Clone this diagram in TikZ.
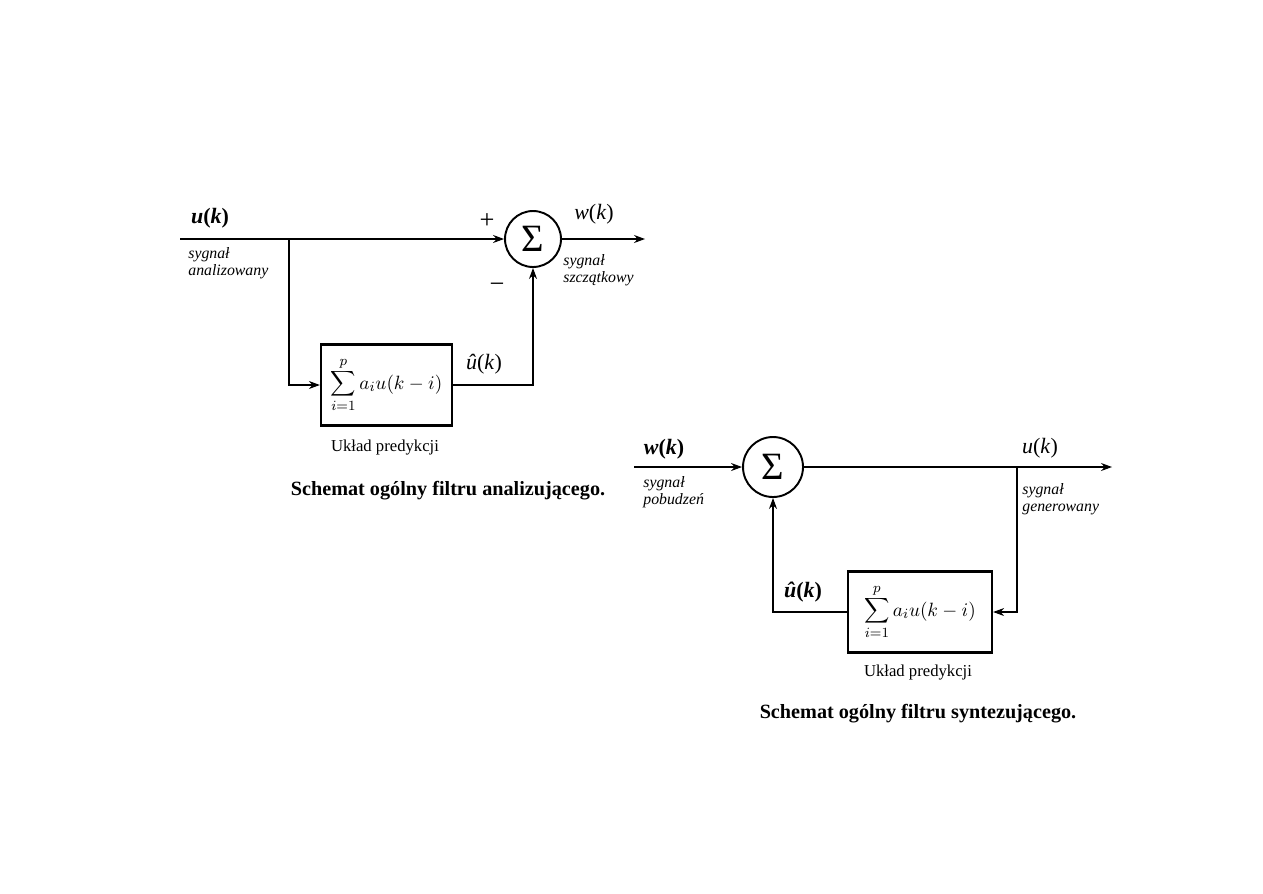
\documentclass[tikz,border=0pt]{standalone}
\usepackage{fontspec}
\setmainfont{Liberation Serif}
\usetikzlibrary{arrows.meta}
\begin{document}
\begin{tikzpicture}[x=0.02cm,y=-0.02cm,
  sig/.style={line width=0.6pt},
  arr/.style={sig,-{Stealth[length=2.2mm,width=1.6mm]}},
  sumnode/.style={circle,draw,line width=1.1pt,inner sep=0pt,font=\fontsize{22}{22}\selectfont},
  block/.style={draw,line width=1.3pt,inner sep=0pt,minimum height=1.62cm,font=\fontsize{11.2}{12}\selectfont},
  lab/.style={font=\itshape\fontsize{9}{10.5}\selectfont,align=left,anchor=north west,inner sep=0pt},
  var/.style={font=\fontsize{12.5}{13}\selectfont,inner sep=0pt},
  sgn/.style={font=\fontsize{15}{15}\selectfont,inner sep=0pt},
  captxt/.style={font=\fontsize{9.5}{10}\selectfont,inner sep=0pt},
  ttl/.style={font=\bfseries\fontsize{11.5}{12}\selectfont,inner sep=0pt}]
\useasboundingbox (0,0) rectangle (1263,893);

% ---------- analysis filter ----------
\node[sumnode,minimum size=1.12cm] (s1) at (533,239) {Σ};
\node[block,minimum width=2.62cm] (b1) at (386.5,385) {$\displaystyle\sum_{i=1}^{p} a_i u(k-i)$};
\coordinate (in1) at (180,239);
\coordinate (br1) at (289,239);
\coordinate (out1) at (645,239);
\draw[arr] (in1) -- (s1.west);
\draw[arr] (br1) |- (b1.west);
\draw[arr] (b1.east) -| (s1.south);
\draw[arr] (s1.east) -- (out1);

\node[var] (u1) at (210,218) {\textbf{\textit{u}(\textit{k})}};
\node[lab] (sa) at (188,247) {sygnał\\[-1pt]analizowany};
\node[sgn] (p1) at (487,221) {+};
\node[sgn] (m1) at (497,288) {−};
\node[var] (w1) at (594,214) {\textit{w}(\textit{k})};
\node[lab] (ss) at (563,254) {sygnał\\[-1pt]szczątkowy};
\node[var] (uh1) at (484,364) {\textit{û}(\textit{k})};
\node[captxt] (c1) at (385,447) {Układ predykcji};
\node[ttl] (t1) at (448,491) {Schemat ogólny filtru analizującego.};

% ---------- synthesis filter ----------
\node[sumnode,minimum size=1.2cm] (s2) at (773,467) {Σ};
\node[block,minimum width=2.88cm] (b2) at (920,612) {$\displaystyle\sum_{i=1}^{p} a_i u(k-i)$};
\coordinate (in2) at (634,467);
\coordinate (br2) at (1017,467);
\coordinate (out2) at (1112,467);
\draw[arr] (in2) -- (s2.west);
\draw[arr] (s2.east) -- (out2);
\draw[arr] (br2) |- (b2.east);
\draw[arr] (b2.west) -| (s2.south);

\node[var] (w2) at (664,449) {\textbf{\textit{w}(\textit{k})}};
\node[lab] (sp) at (643,476) {sygnał\\[-1pt]pobudzeń};
\node[var] (u2) at (1040,448) {\textit{u}(\textit{k})};
\node[lab] (sg) at (1022,483) {sygnał\\[-1pt]generowany};
\node[var] (uh2) at (803,592) {\textbf{\textit{û}(\textit{k})}};
\node[captxt] (c2) at (918,672) {Układ predykcji};
\node[ttl] (t2) at (918,714) {Schemat ogólny filtru syntezującego.};
\end{tikzpicture}
\end{document}
